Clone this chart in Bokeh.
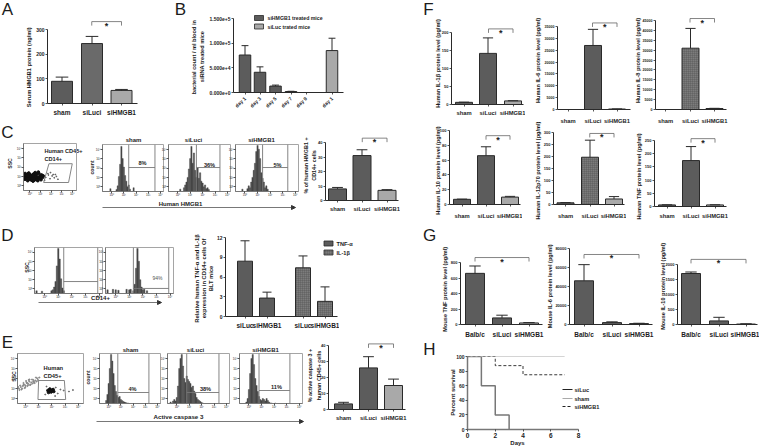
from bokeh.plotting import figure
from bokeh.layouts import column
from bokeh.models import Range1d, FixedTicker, Arrow, NormalHead
from bokeh.core.properties import value
from bokeh.embed import file_html
from bokeh.resources import INLINE
import math

FONT = "Liberation Sans"
INK = "#2a2a2a"
DARK = "#5c5c5c"
MID = "#6a6a6a"
LIGHT = "#a9a9a9"
HATCH = "#7c7c7c"

# ---------- data ----------
cats = ["sham", "siLuci", "siHMGB1"]
a_vals = [90, 243, 53];        a_tops = [107, 272, 57]
b_cats = ["day 1", "day 3", "day 5", "day 7", "day 9", "day 1"]
b_vals = [76000, 41000, 13000, 2000, 0, 85000]
b_tops = [95000, 52000, 15000, 2500, 0, 110000]
c_vals = [8, 31, 7];           c_tops = [9, 35, 7.5]
d_cats = ["siLuc", "siHMGB1", "siLuc", "siHMGB1"]
d_vals = [8.4, 2.8, 7.4, 2.3]; d_tops = [11.5, 3.7, 9.2, 4.5]
e_vals = [3.5, 26, 15];        e_tops = [4.5, 33, 19]
f1_vals = [6, 142, 10];        f1_tops = [6.5, 185, 10.5]
f2_vals = [0, 27000, 200];     f2_tops = [0, 33800, 250]
f3_vals = [0, 31000, 500];     f3_tops = [0, 41000, 600]
f4_vals = [7, 66, 10];         f4_tops = [7.3, 78, 11]
f5_vals = [7, 197, 23];        f5_tops = [8, 268, 33]
f6_vals = [6, 174, 6];         f6_tops = [6.5, 227, 6.5]
g_cats = ["Balb/c", "siLuci", "siHMGB1"]
g1_vals = [660, 85, 20];       g1_tops = [755, 120, 25]
g2_vals = [46000, 2000, 1000]; g2_tops = [63000, 2800, 1300]
g3_vals = [1700, 120, 15];     g3_tops = [1750, 240, 25]
h_days_siluc = [0, 1, 1, 2, 2, 3, 3]; h_surv_siluc = [100, 100, 60, 60, 20, 20, 0]
h_days_sham = [0, 7];                 h_surv_sham = [100, 100]
h_days_sihmgb1 = [0, 2, 2, 4, 4, 7];  h_surv_sihmgb1 = [100, 100, 87.5, 87.5, 75, 75]

hist_c_sham = [0,0,0,0,0,0,6,0,0,0,0,4,12,32,58,96,70,52,34,22,10,14,5,0,0,8]
hist_c_siluci = [0,0,0,0,0,0,0,0,0,5,0,0,8,14,20,30,48,70,96,60,82,45,30,50,28,40,22,18,10,14,6,8,4]
hist_c_sihmgb1 = [0,0,0,0,0,5,0,0,0,6,12,8,20,30,45,60,85,98,90,70,40,28,20,8,12,5]
hist_d_1 = [0,6,0,0,0,5,0,0,0,0,0,0,6,8,14,26,60,98,75,32,12,6]
hist_d_2 = [0,8,0,0,0,9,0,8,0,7,0,0,0,0,0,9,0,8,9,0,6,20,55,98,70,30,14,8,9,0,6]
hist_e_sham = [0,0,0,0,0,6,18,40,70,98,85,60,36,24,16,12,14,8,6,4,3,2,1,1]
hist_e_siluci = [0,0,3,0,5,8,5,12,35,70,90,98,75,50,42,55,48,44,40,32,35,25,20,12,8,6,4,2,1]
hist_e_sihmgb1 = [0,0,0,0,0,3,10,28,60,90,98,78,50,36,24,14,8,6,10,8,5,10,6,3,1,1,0,0,1]
flow_tick_labels = ["10⁰", "10¹", "10²", "10³", "10⁴"]

dots_c_x = [3,8,14,18,23,27,33,5,11,15,21,25,31,36,4,9,13,19,24,29,34,7,12,17,22,28,32,6,10,16,20,26,2,37,
            1,6,12,16,20,24,30,35,3,9,14,18,26,33,11,23]
dots_c_y = [24,21,23,20,24,21,23,30,28,31,29,27,30,28,34,36,33,35,32,36,33,26,25,27,38,39,25,31,37,22,34,26,29,31,
            27,33,30,26,22,35,28,31,36,24,29,33,23,29,34,29]
dots_c_sparse_x = [42,47,50,54,58,62,46,56,40,51,60,65]
dots_c_sparse_y = [28,33,25,31,27,30,36,34,22,38,34,24]
dots_e_x = [2,5,8,10,12,14,16,18,21,24,27,30,33,6,11,15,19,23,26,29,4,9,13,17,22,28,
            3,7,12,16,20,25,31,1,9,14,18,24]
dots_e_y = [30,33,35,38,36,41,40,44,42,47,46,50,52,28,31,35,37,40,41,44,36,41,45,47,48,52,
            27,30,33,37,38,43,47,33,37,42,48,44]
dots_e_core_x = [46,48,50,52,54,49,51,53,47,55]
dots_e_core_y = [26,24,27,25,28,29,23,27,22,24]
dots_e_sparse_x = [42,58,61,65,44,57,70,78,84]
dots_e_sparse_y = [18,32,20,28,34,15,26,24,27]

# ---------- page ----------
bg = figure(width=762, height=446, x_range=Range1d(0, 762), y_range=Range1d(446, 0),
            x_axis_type=None, y_axis_type=None, toolbar_location=None, output_backend="svg",
            min_border=0, outline_line_color=None, frame_align=False)
bg.grid.visible = False
parts = []


def place(fig, left, top):
    fig.styles = {"position": "absolute", "left": f"{left}px", "top": f"{top}px"}
    parts.append(fig)


place(bg, 0, 0)


def txt(x, y, s, size=6.5, bold=True, angle=0, color="#1c1c1c", align="center"):
    bg.text([x], [y], text=[s], text_font=value(FONT), text_font_size=f"{size}px",
            text_font_style="bold" if bold else "normal", angle=angle,
            text_align=align, text_baseline="middle", text_color=color)


def ytxt(x, y, s, size=5.6):
    txt(x, y, s, size=size, angle=math.pi / 2)


def letter(x, y, s):
    txt(x, y, s, size=17, bold=False)


def arrow(x0, x1, y):
    bg.add_layout(Arrow(end=NormalHead(size=4, line_color="#333", fill_color="#333"),
                        x_start=x0, y_start=y, x_end=x1, y_end=y, line_color="#555", line_width=0.8))


def style_axes(p, tick_size="5px"):
    for ax in (p.xaxis[0], p.yaxis[0]):
        ax.axis_line_color = INK
        ax.axis_line_width = 1
        ax.major_tick_line_color = INK
        ax.major_tick_line_width = 0.8
        ax.major_tick_out = 2
        ax.major_tick_in = 0
        ax.minor_tick_line_color = None
        ax.major_label_text_font = FONT
        ax.major_label_text_font_style = "bold"
        ax.major_label_text_color = "#1c1c1c"
        ax.major_label_standoff = 1
    p.yaxis[0].major_label_text_font_size = tick_size
    p.xaxis[0].major_label_text_font_size = "6.5px"
    p.grid.visible = False


def bars(fl, fr, ytop, y0, ymax, yticks, labels, centers, width, vals, tops, fills,
         bracket=None, extra_top=18, rotate=None, tick_size="5px", hatches=None, xstand=3):
    """fl/fr: axis extent, ytop/y0: where ymax and 0 sit; centers in category slots."""
    ft = ytop - extra_top
    mL, mR, mT, mB = 34, 2, 2, 26
    span = centers[-1] - centers[0] if len(centers) > 1 else 1
    n = len(vals)
    slot = span / (n - 1)
    x0 = (fl - centers[0]) / slot
    x1 = (fr - centers[0]) / slot
    pos = [(c - centers[0]) / slot for c in centers]
    yext = ymax * (y0 - ft) / (y0 - ytop)
    p = figure(width=int(fr - fl + mL + mR), height=int(y0 - ft + mT + mB),
               x_range=Range1d(x0, x1), y_range=Range1d(0, yext),
               toolbar_location=None, output_backend="svg", frame_align=False,
               min_border_left=mL, min_border_right=mR, min_border_top=mT, min_border_bottom=mB,
               background_fill_color=None, border_fill_color=None, outline_line_color=None)
    style_axes(p, tick_size)
    p.yaxis[0].ticker = FixedTicker(ticks=yticks)
    p.yaxis[0].bounds = (0, ymax)
    p.xaxis[0].ticker = FixedTicker(ticks=pos)
    p.xaxis[0].major_label_overrides = {q: l for q, l in zip(pos, labels)}
    p.xaxis[0].major_label_standoff = xstand
    if slot < 26:
        p.xaxis[0].major_label_text_font_size = "5.8px"
    if rotate:
        p.xaxis[0].major_label_orientation = rotate
        p.xaxis[0].major_label_text_font_size = "5px"
    w = width / slot
    for i in range(n):
        h = {}
        if hatches and hatches[i]:
            h = dict(hatch_pattern="cross", hatch_color="#444444", hatch_scale=2, hatch_weight=0.5)
        p.vbar(x=[pos[i]], top=[vals[i]], width=w, bottom=0, fill_color=fills[i],
               line_color=INK, line_width=1, **h)
    for i in range(n):
        if tops[i] > vals[i]:
            p.segment([pos[i]], [vals[i]], [pos[i]], [tops[i]], line_color=INK, line_width=1)
            p.segment([pos[i] - w * 0.3], [tops[i]], [pos[i] + w * 0.3], [tops[i]], line_color=INK, line_width=1)
    if bracket:
        a, b, yb = bracket
        drop = 4 * yext / (y0 - ft)
        p.line([a, a, b, b], [yb - drop, yb, yb, yb - drop], line_color="#666", line_width=0.8)
        p.text([(a + b) / 2], [yb], text=["*"], text_font=value(FONT), text_font_size="9px",
               text_font_style="bold", text_align="center", text_baseline="alphabetic",
               y_offset=4, text_color="#222")
    place(p, fl - mL, ft - mT)
    return p


def flow(fl, fr, ft, fb, hist=None, gate=None, gate_y=None, xticks=(15, 35, 55, 75, 95)):
    mL, mR, mT, mB = 8, 1, 1, 8
    p = figure(width=int(fr - fl + mL + mR), height=int(fb - ft + mT + mB),
               x_range=Range1d(0, 100), y_range=Range1d(0, 100),
               toolbar_location=None, output_backend="svg", frame_align=False,
               min_border_left=mL, min_border_right=mR, min_border_top=mT, min_border_bottom=mB,
               background_fill_color=None, border_fill_color=None,
               outline_line_color="#a5a5a5", outline_line_width=1)
    style_axes(p)
    yticks = [10, 30, 50, 70, 90]
    for ax, t in ((p.xaxis[0], list(xticks)), (p.yaxis[0], yticks)):
        ax.axis_line_color = "#777777"
        ax.major_label_text_font_size = "3px"
        ax.major_label_text_font_style = "normal"
        ax.major_tick_out = 2
        ax.major_label_standoff = 0
        ax.ticker = FixedTicker(ticks=t)
        ax.major_label_overrides = {q: l for q, l in zip(t, flow_tick_labels)}
    if hist:
        xs = [2 * i + 1 for i in range(len(hist))]
        p.vbar(x=xs, top=hist, width=2, bottom=0, fill_color="#474747", line_color="#474747", line_width=0.4)
    if gate:
        p.line([gate[0], gate[0]], [0, 100], line_color="#777", line_width=0.9)
        p.line([gate[1], gate[1]], [0, 100], line_color="#777", line_width=0.9)
        p.line([gate[0], gate[1]], [gate_y, gate_y], line_color="#777", line_width=0.9)
    place(p, fl - mL, ft - mT)
    return p


# ---------- A ----------
letter(7, 9, "A")
bars(47, 137, 29, 103, 300, [0, 100, 200, 300], cats, [61.5, 91.5, 121], 21, a_vals, a_tops, [DARK, MID, LIGHT],
     bracket=(1, 2, 332))
ytxt(28, 66, "Serum  HMGB1 protein (ng/ml)")

# ---------- B ----------
letter(180, 9, "B")
bars(233, 343, 18, 92, 150000, [0, 50000, 100000, 150000], b_cats, [244.5, 259.5, 275, 290.5, 305.5, 331.5], 11.5,
     b_vals, b_tops, [DARK, DARK, DARK, DARK, DARK, LIGHT], rotate=math.pi / 4)
ytxt(193, 56, "bacterial count / ml  blood in")
ytxt(201, 56, "siRNA treated mice")
for yy, col, lab in [(17.5, DARK, "siHMGB1 treated mice"), (26, LIGHT, "siLuc trated mice")]:
    bg.rect([258.5], [yy], width=[9], height=[5], fill_color=col, line_color=INK, line_width=0.8)
    txt(267, yy, lab, size=5.2, align="left")

# ---------- C ----------
letter(7, 132, "C")
p = flow(21, 76, 143, 190, xticks=(12, 32, 52, 72, 92))
p.scatter(dots_c_x, dots_c_y, size=2.8, color="#111")
p.scatter(dots_c_sparse_x, dots_c_sparse_y, size=0.9, color="#555")
p.patch([38, 48, 92, 85], [17, 57, 57, 17], fill_color=None, line_color="#777", line_width=0.9)
txt(44, 150, "Human CD45+", size=5.6, align="left")
txt(44, 158, "CD14+", size=5.6, align="left")
ytxt(9, 163, "SSC", size=5.2)
flow(100, 163, 144, 191, hist_c_sham, (43, 86), 51)
flow(166, 230, 144, 191, hist_c_siluci, (45, 83), 51)
flow(233, 298, 144, 191, hist_c_sihmgb1, (43, 83), 51)
for xx, yy, s in [(133, 139, "sham"), (193, 139, "siLuci"), (261, 139, "siHMGB1")]:
    txt(xx, yy, s, size=6)
for xx, yy, s in [(142, 162, "8%"), (209, 164, "36%"), (277, 164, "5%")]:
    txt(xx, yy, s, size=5.6)
ytxt(91, 167, "count", size=5.2)
txt(180, 203, "Human HMGB1", size=6)
arrow(102, 295, 207)
bars(325, 398, 142, 200, 40, [0, 10, 20, 30, 40], cats, [337, 361.5, 386.5], 18, c_vals, c_tops, [DARK, DARK, LIGHT],
     bracket=(1, 2, 43), tick_size="4px")
ytxt(305, 165, "% of human HMGB1 +", size=5.4)
ytxt(313, 165, "CD14+ cells", size=5.4)

# ---------- D ----------
letter(7, 235, "D")
flow(32, 102, 247, 293, hist_d_1, (43, 93), 26)
flow(103, 173, 247, 293, hist_d_2, (41, 93), 11)
txt(157, 277, "94%", size=5, bold=False, color="#555")
ytxt(26, 267, "SSC", size=5.2)
txt(100, 297, "CD14+", size=6)
arrow(38, 161, 302)
bars(225, 337, 237, 316, 12, [0, 3, 6, 9, 12], d_cats, [244.5, 266.5, 302.5, 324.5], 15, d_vals, d_tops,
     [DARK, DARK, HATCH, HATCH], hatches=[0, 0, 1, 1])
ytxt(196, 278, "Relative human TNF-α and IL-1β", size=5.8)
ytxt(203, 278, "expression in CD14+ cells Of", size=5.8)
ytxt(210, 278, "BLT mice", size=5.8)
for yy, col, lab, hh in [(243, DARK, "TNF-α", False), (252, HATCH, "IL-1β", True)]:
    h = dict(hatch_pattern="cross", hatch_color="#444444", hatch_scale=2, hatch_weight=0.5) if hh else {}
    bg.rect([328], [yy], width=[9], height=[5], fill_color=col, line_color=INK, line_width=0.8, **h)
    txt(336, yy, lab, size=5.6, align="left")

# ---------- E ----------
letter(7, 342, "E")
p = flow(15, 83, 353, 403, xticks=(12, 32, 52, 72, 92))
p.scatter(dots_e_x, dots_e_y, size=1.2, color="#888")
p.scatter(dots_e_core_x, dots_e_core_y, size=2.6, color="#111")
p.scatter(dots_e_sparse_x, dots_e_sparse_y, size=1, color="#666")
p.patch([32, 71, 73, 31], [46, 46, 8, 8], fill_color=None, line_color="#777", line_width=0.9)
txt(43, 367, "Human", size=5.8, align="left")
txt(43, 375, "CD45+", size=5.8, align="left")
ytxt(13, 376, "SSC", size=5.2)
flow(97, 160, 353, 403, hist_e_sham, (30, 81), 22)
flow(165, 229, 353, 403, hist_e_siluci, (31, 83), 22)
flow(237, 302, 353, 403, hist_e_sihmgb1, (31, 80), 26)
for xx, yy, s in [(130, 349, "sham"), (195, 349, "siLuci"), (265, 349, "siHMGB1")]:
    txt(xx, yy, s, size=6)
for xx, yy, s in [(132, 388, "4%"), (205, 388, "38%"), (276, 386, "11%")]:
    txt(xx, yy, s, size=5.6)
ytxt(87, 377, "count", size=5.2)
txt(178, 416, "Active caspase 3", size=6.2)
arrow(96, 303, 421)
bars(328, 405, 345, 409, 40, [0, 10, 20, 30, 40], cats, [343, 368, 393], 18, e_vals, e_tops, [DARK, DARK, LIGHT],
     bracket=(1, 2, 41), tick_size="4px")
ytxt(309, 375, "% active caspase 3 +", size=5.4)
ytxt(318, 375, "human CD45+ cells", size=5.4)

# ---------- F ----------
letter(428, 9, "F")
bars(451, 523, 32, 104, 200, [0, 50, 100, 150, 200], cats, [463.5, 487.5, 512.5], 17, f1_vals, f1_tops, [DARK, DARK, LIGHT],
     bracket=(1, 2, 210), tick_size="4px", extra_top=14)
ytxt(437, 63, "Human IL-1β protein level (pg/ml)")
bars(557, 630, 26, 109, 35000, [0, 5000, 10000, 15000, 20000, 25000, 30000, 35000], cats, [567.5, 592.5, 616.5], 17,
     f2_vals, f2_tops, [DARK, DARK, LIGHT], bracket=(1, 2, 36500), tick_size="3.6px", extra_top=12, xstand=6)
ytxt(537, 60, "Human IL-6 protein level (pg/ml)")
bars(655, 726, 20, 109, 45000, [0, 5000, 10000, 15000, 20000, 25000, 30000, 35000, 40000, 45000], cats, [665, 690, 714], 17,
     f3_vals, f3_tops, [DARK, HATCH, LIGHT], bracket=(1, 2, 46000), tick_size="3.6px", extra_top=8, xstand=6,
     hatches=[0, 1, 0])
ytxt(637, 60, "Human IL-8 protein level (pg/ml)")
bars(449, 520, 130, 204, 100, [0, 20, 40, 60, 80, 100], cats, [461.5, 485.5, 509.5], 17, f4_vals, f4_tops, [DARK, DARK, LIGHT],
     bracket=(1, 2, 93), tick_size="4px", xstand=6, extra_top=8)
ytxt(437, 170, "Human IL-10 protein level (pg/ml)")
bars(553, 624, 132, 204, 300, [0, 50, 100, 150, 200, 250, 300], cats, [565, 589.5, 613.5], 17, f5_vals, f5_tops,
     [DARK, HATCH, LIGHT], bracket=(1, 2, 296), tick_size="4px", xstand=6, extra_top=8, hatches=[0, 1, 0])
ytxt(537, 170, "Human IL-12p70 protein level (pg/ml)")
bars(654, 726, 140, 206, 250, [0, 50, 100, 150, 200, 250], cats, [666.5, 690.5, 714.5], 17, f6_vals, f6_tops, [DARK, DARK, LIGHT],
     bracket=(1, 2, 257), tick_size="4px", xstand=4, extra_top=10)
ytxt(638, 176, "Human TNF protein level (pg/ml)")

# ---------- G ----------
letter(429, 235, "G")
bars(460, 542, 262, 324, 800, [0, 200, 400, 600, 800], g_cats, [474.5, 501.5, 528.5], 19, g1_vals, g1_tops, [DARK, DARK, LIGHT],
     bracket=(0, 2, 864), tick_size="4px", xstand=4, extra_top=12)
ytxt(444, 288, "Mouse TNF  protein level (pg/ml)")
bars(569, 652, 248, 324, 80000, [0, 20000, 40000, 60000, 80000], g_cats, [583.5, 611.5, 638.5], 19, g2_vals, g2_tops, [DARK, DARK, LIGHT],
     bracket=(0, 2, 73700), tick_size="4px", xstand=4, extra_top=6)
ytxt(549, 285, "Mouse IL-6  protein level (pg/ml)")
bars(677, 757, 264, 324, 2000, [0, 500, 1000, 1500, 2000], g_cats, [690.5, 718.5, 745.5], 19, g3_vals, g3_tops, [DARK, DARK, LIGHT],
     bracket=(0, 2, 2170), tick_size="4px", xstand=4, extra_top=10)
ytxt(662, 285, "Mouse IL-10  protein level (pg/ml)")

# ---------- H ----------
letter(429, 349, "H")
mL, mR, mT, mB = 20, 3, 3, 14
ph = figure(width=111 + mL + mR, height=73 + mT + mB, x_range=Range1d(0, 8), y_range=Range1d(0, 100),
            toolbar_location=None, output_backend="svg", min_border_left=mL, min_border_right=mR,
            min_border_top=mT, min_border_bottom=mB, background_fill_color=None, border_fill_color=None,
            outline_line_color=None, frame_align=False)
style_axes(ph)
ph.xaxis[0].ticker = FixedTicker(ticks=[0, 2, 4, 6, 8])
ph.yaxis[0].ticker = FixedTicker(ticks=[0, 20, 40, 60, 80, 100])
ph.xaxis[0].axis_line_color = "#777"
ph.xaxis[0].axis_line_width = 1.5
ph.yaxis[0].axis_line_color = "#777"
ph.yaxis[0].axis_line_width = 1.5
ph.line(h_days_sham, h_surv_sham, line_color="#aaa", line_width=1)
ph.line(h_days_sihmgb1, h_surv_sihmgb1, line_color="#222", line_width=0.9, line_dash="3 2")
ph.line(h_days_siluc, h_surv_siluc, line_color="#777", line_width=1.5)
place(ph, 467 - mL, 356 - mT)
ytxt(452, 392, "Percent survival", size=6)
txt(517, 442, "Days", size=6)
for yy, col, dash, lab in [(389, "#222", "solid", "siLuc"), (398, "#aaa", "solid", "sham"), (406, "#222", "3 2", "siHMGB1")]:
    bg.line([562, 572], [yy, yy], line_color=col, line_width=1, line_dash=dash)
    txt(574, yy, lab, size=5.6, align="left")

root = column(*parts, width=762, height=446, styles={"position": "relative"})
open("out.html", "w").write(file_html(root, INLINE))
